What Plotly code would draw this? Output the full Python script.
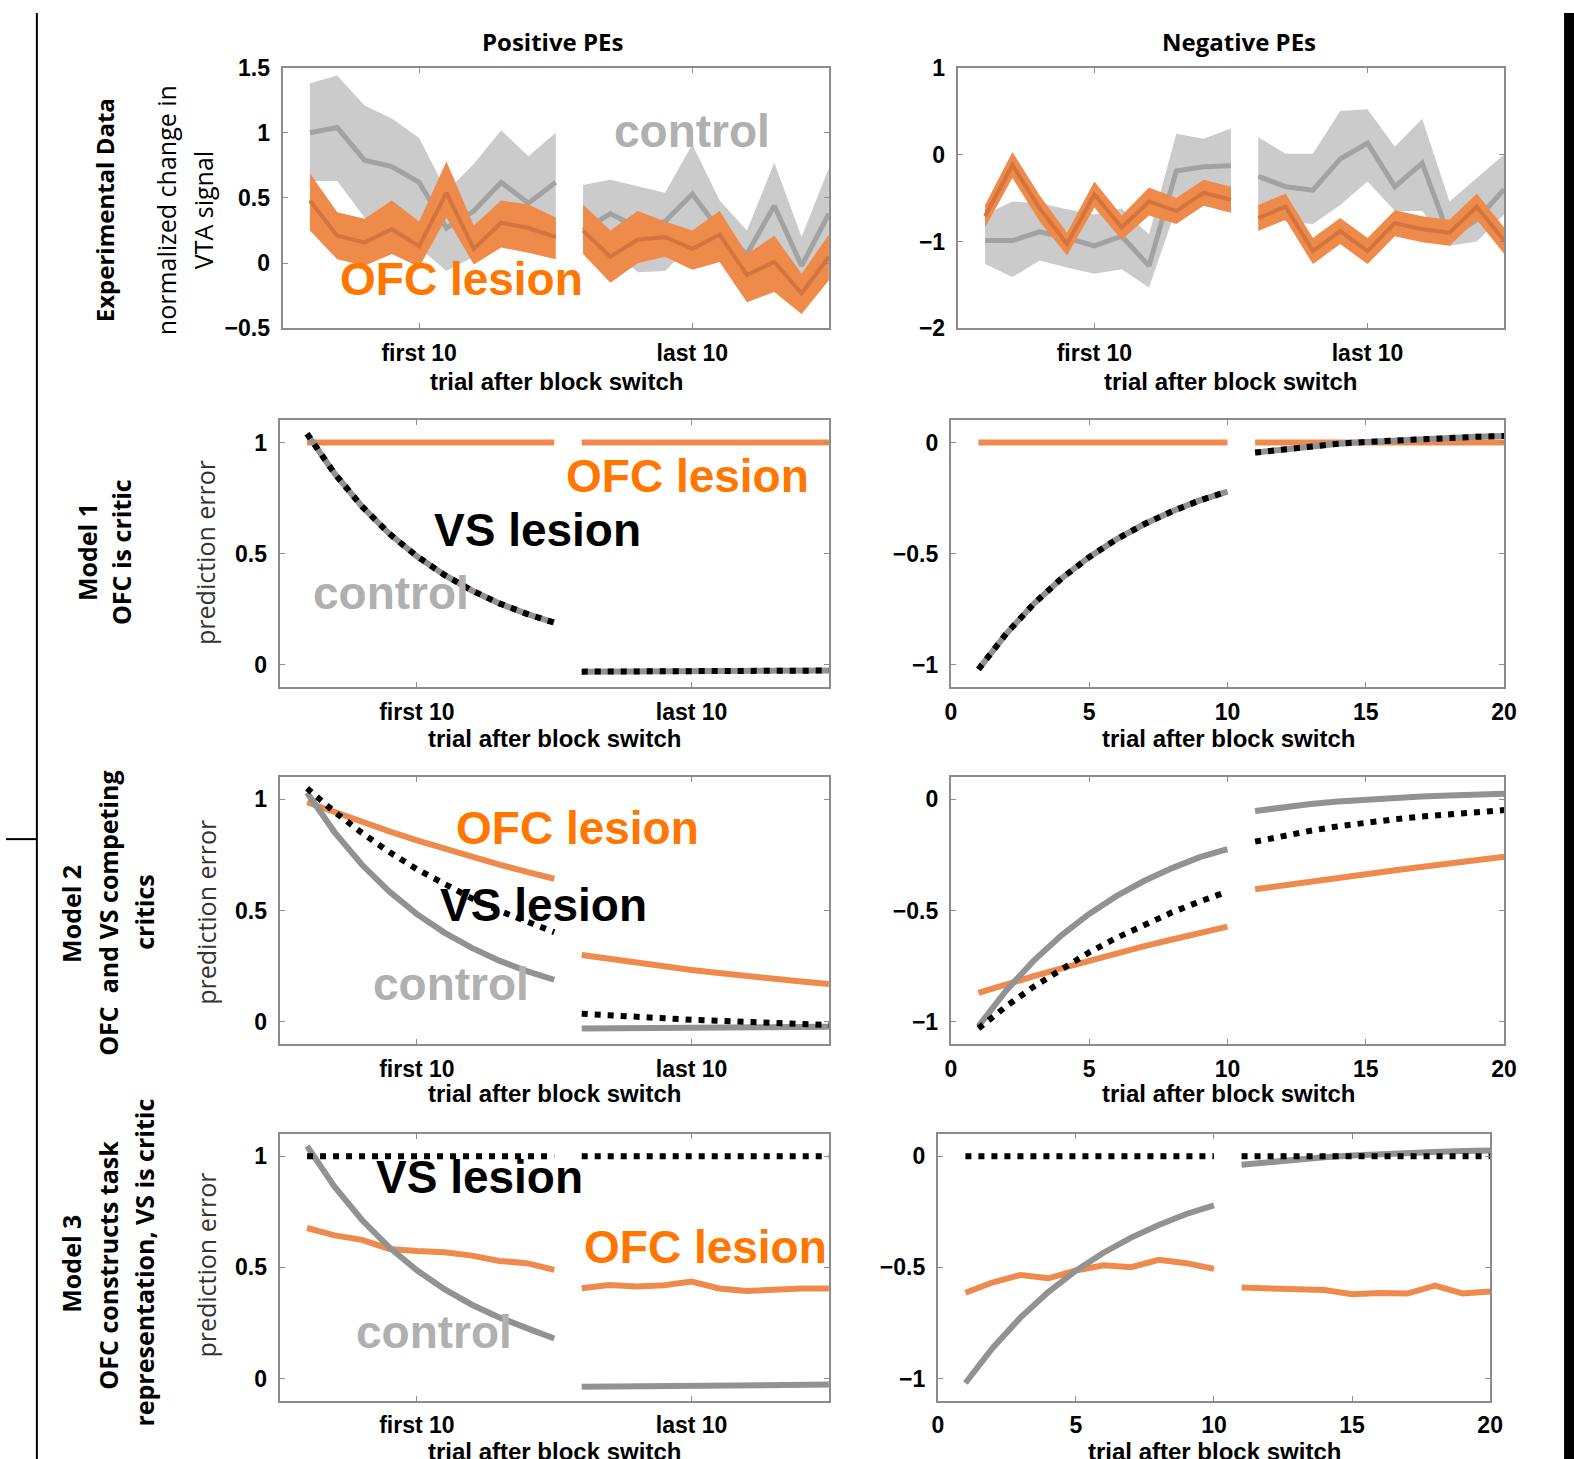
import plotly.graph_objects as go

W, H = 1600, 1480  # figure size (slightly larger than the picture, see compensation below)

# ---------------- data ----------------
trials_a = [1, 2, 3, 4, 5, 6, 7, 8, 9, 10]
trials_b = [11, 12, 13, 14, 15, 16, 17, 18, 19, 20]
first_last_ticks = [5, 15]
first_last_text = ["first 10", "last 10"]
num_ticks = [0, 5, 10, 15, 20]

# Experimental data - positive PEs
pos_ctrl_mean_a = [1.00, 1.04, 0.79, 0.74, 0.62, 0.27, 0.40, 0.62, 0.46, 0.62]
pos_ctrl_hi_a = [1.38, 1.44, 1.21, 1.11, 0.96, 0.55, 0.76, 1.02, 0.82, 1.00]
pos_ctrl_lo_a = [0.63, 0.63, 0.35, 0.25, 0.12, -0.06, 0.05, 0.22, 0.10, 0.22]
pos_ctrl_mean_b = [0.25, 0.38, 0.27, 0.32, 0.53, 0.25, 0.07, 0.44, -0.02, 0.38]
pos_ctrl_hi_b = [0.60, 0.64, 0.59, 0.54, 0.91, 0.48, 0.25, 0.77, 0.20, 0.73]
pos_ctrl_lo_b = [0.10, 0.12, -0.07, -0.06, 0.15, 0.02, -0.10, 0.10, -0.15, 0.05]
pos_ofc_mean_a = [0.48, 0.21, 0.16, 0.26, 0.13, 0.54, 0.11, 0.31, 0.27, 0.20]
pos_ofc_hi_a = [0.69, 0.39, 0.34, 0.48, 0.32, 0.78, 0.29, 0.48, 0.45, 0.35]
pos_ofc_lo_a = [0.25, 0.03, -0.02, 0.07, -0.03, 0.35, -0.01, 0.12, 0.08, 0.03]
pos_ofc_mean_b = [0.25, 0.05, 0.18, 0.20, 0.11, 0.22, -0.09, 0.01, -0.23, 0.05]
pos_ofc_hi_b = [0.45, 0.25, 0.40, 0.32, 0.25, 0.40, 0.07, 0.21, -0.08, 0.22]
pos_ofc_lo_b = [0.07, -0.15, 0.00, 0.05, -0.05, 0.01, -0.30, -0.22, -0.39, -0.13]

# Experimental data - negative PEs
neg_ctrl_mean_a = [-0.99, -0.99, -0.89, -0.96, -1.05, -0.94, -1.28, -0.19, -0.14, -0.13]
neg_ctrl_hi_a = [-0.69, -0.54, -0.56, -0.63, -0.69, -0.62, -0.92, 0.24, 0.18, 0.30]
neg_ctrl_lo_a = [-1.26, -1.41, -1.22, -1.30, -1.37, -1.32, -1.53, -0.62, -0.52, -0.50]
neg_ctrl_mean_b = [-0.25, -0.37, -0.41, -0.05, 0.13, -0.37, -0.10, -0.95, -0.75, -0.40]
neg_ctrl_hi_b = [0.20, 0.01, 0.01, 0.50, 0.52, 0.09, 0.41, -0.54, -0.27, 0.00]
neg_ctrl_lo_b = [-0.62, -0.77, -0.80, -0.58, -0.31, -0.65, -0.65, -1.05, -1.00, -0.69]
neg_ofc_mean_a = [-0.71, -0.12, -0.62, -1.03, -0.46, -0.84, -0.54, -0.65, -0.44, -0.52]
neg_ofc_hi_a = [-0.58, 0.03, -0.47, -0.90, -0.31, -0.70, -0.38, -0.50, -0.29, -0.37]
neg_ofc_lo_a = [-0.84, -0.27, -0.77, -1.16, -0.61, -0.98, -0.70, -0.80, -0.59, -0.67]
neg_ofc_mean_b = [-0.73, -0.60, -1.11, -0.88, -1.11, -0.79, -0.86, -0.90, -0.60, -0.99]
neg_ofc_hi_b = [-0.58, -0.45, -0.96, -0.73, -0.96, -0.64, -0.71, -0.75, -0.45, -0.84]
neg_ofc_lo_b = [-0.88, -0.75, -1.26, -1.03, -1.26, -0.94, -1.01, -1.05, -0.75, -1.14]

# Model 1
m1_pos_ctrl_a = [1.04, 0.861, 0.713, 0.590, 0.489, 0.405, 0.335, 0.277, 0.230, 0.190]
m1_pos_ctrl_b = [-0.030, -0.030, -0.029, -0.029, -0.028, -0.028, -0.027, -0.027, -0.026, -0.025]
m1_pos_vs_a = [1.04, 0.861, 0.713, 0.590, 0.489, 0.405, 0.335, 0.277, 0.230, 0.190]
m1_pos_vs_b = [-0.030, -0.030, -0.029, -0.029, -0.028, -0.028, -0.027, -0.027, -0.026, -0.025]
m1_pos_ofc_a = [1, 1, 1, 1, 1, 1, 1, 1, 1, 1]
m1_pos_ofc_b = [1, 1, 1, 1, 1, 1, 1, 1, 1, 1]
m1_neg_ctrl_a = [-1.02, -0.86, -0.725, -0.611, -0.515, -0.434, -0.366, -0.309, -0.260, -0.22]
m1_neg_ctrl_b = [-0.045, -0.030, -0.015, -0.005, 0.003, 0.010, 0.016, 0.021, 0.026, 0.030]
m1_neg_vs_a = [-1.02, -0.86, -0.725, -0.611, -0.515, -0.434, -0.366, -0.309, -0.260, -0.22]
m1_neg_vs_b = [-0.045, -0.030, -0.015, -0.005, 0.003, 0.010, 0.016, 0.021, 0.026, 0.030]
m1_neg_ofc_a = [0, 0, 0, 0, 0, 0, 0, 0, 0, 0]
m1_neg_ofc_b = [0, 0, 0, 0, 0, 0, 0, 0, 0, 0]

# Model 2
m2_pos_ctrl_a = [1.03, 0.853, 0.706, 0.585, 0.484, 0.401, 0.332, 0.275, 0.228, 0.189]
m2_pos_ctrl_b = [-0.030, -0.029, -0.028, -0.027, -0.026, -0.025, -0.024, -0.023, -0.022, -0.022]
m2_pos_vs_a = [1.05, 0.944, 0.849, 0.763, 0.686, 0.617, 0.555, 0.499, 0.448, 0.403]
m2_pos_vs_b = [0.036, 0.028, 0.021, 0.014, 0.009, 0.004, 0.0, -0.005, -0.010, -0.015]
m2_pos_ofc_a = [0.987, 0.941, 0.897, 0.856, 0.816, 0.778, 0.742, 0.707, 0.674, 0.643]
m2_pos_ofc_b = [0.300, 0.282, 0.264, 0.248, 0.233, 0.219, 0.205, 0.193, 0.181, 0.170]
m2_neg_ctrl_a = [-1.02, -0.86, -0.725, -0.611, -0.515, -0.434, -0.366, -0.309, -0.260, -0.224]
m2_neg_ctrl_b = [-0.052, -0.035, -0.021, -0.009, 0.0, 0.007, 0.013, 0.018, 0.022, 0.025]
m2_neg_vs_a = [-1.03, -0.931, -0.842, -0.761, -0.688, -0.622, -0.562, -0.508, -0.459, -0.415]
m2_neg_vs_b = [-0.19, -0.164, -0.141, -0.121, -0.104, -0.090, -0.077, -0.067, -0.057, -0.048]
m2_neg_ofc_a = [-0.87, -0.83, -0.795, -0.76, -0.725, -0.69, -0.66, -0.63, -0.60, -0.572]
m2_neg_ofc_b = [-0.404, -0.386, -0.369, -0.352, -0.336, -0.320, -0.304, -0.289, -0.273, -0.258]

# Model 3
m3_pos_ctrl_a = [1.045, 0.863, 0.713, 0.589, 0.487, 0.402, 0.332, 0.275, 0.227, 0.180]
m3_pos_ctrl_b = [-0.037, -0.036, -0.035, -0.034, -0.033, -0.031, -0.030, -0.029, -0.028, -0.027]
m3_pos_vs_a = [1, 1, 1, 1, 1, 1, 1, 1, 1, 1]
m3_pos_vs_b = [1, 1, 1, 1, 1, 1, 1, 1, 1, 1]
m3_pos_ofc_a = [0.677, 0.644, 0.624, 0.583, 0.574, 0.568, 0.553, 0.529, 0.519, 0.489]
m3_pos_ofc_b = [0.406, 0.421, 0.414, 0.420, 0.436, 0.405, 0.394, 0.400, 0.405, 0.405]
m3_neg_ctrl_a = [-1.02, -0.86, -0.725, -0.611, -0.515, -0.434, -0.366, -0.309, -0.260, -0.221]
m3_neg_ctrl_b = [-0.038, -0.025, -0.014, -0.005, 0.003, 0.010, 0.015, 0.019, 0.023, 0.026]
m3_neg_vs_a = [0, 0, 0, 0, 0, 0, 0, 0, 0, 0]
m3_neg_vs_b = [0, 0, 0, 0, 0, 0, 0, 0, 0, 0]
m3_neg_ofc_a = [-0.614, -0.567, -0.534, -0.549, -0.514, -0.491, -0.499, -0.466, -0.481, -0.507]
m3_neg_ofc_b = [-0.591, -0.595, -0.598, -0.602, -0.621, -0.615, -0.618, -0.582, -0.617, -0.609]

# ---------------- styles ----------------
ORANGE_TXT = "#FF7700"
GRAY_TXT = "#B0B0B0"
BAND_GRAY = "#CBCBCB"
LINE_GRAY_DATA = "#A2A2A2"
BAND_ORANGE = "#EE8A4A"
LINE_ORANGE_DATA = "#D3733E"
MODEL_ORANGE = "#EF8A4F"
MODEL_GRAY = "#929292"
AXIS_COL = "#8C8C8C"
LABEL_FONT = "Liberation Sans, Arial, sans-serif"
SIDE_FONT = "Open Sans, DejaVu Sans, sans-serif"
TICK_FONT = dict(family=LABEL_FONT, size=23, color="black", weight="bold")

# The photographed page maps figure pixels slightly (measured): compensate so
# that positions given in picture pixels land where intended.
SX, OX = 0.9893, 5.1
SY, OY = 0.983, 11.4


def px(t):
    return (t - OX) / SX


def py(t):
    return (t - OY) / SY


def xd(a, b):
    return [px(a) / W, px(b) / W]


def yd(top, bottom):
    return [1 - py(bottom) / H, 1 - py(top) / H]


# panel geometry in picture pixels: (x-left, x-right, y-top, y-bottom, yrange, yticks, xtickmode)
panels = [
    (282, 829, 66, 327, [-0.5, 1.5], [-0.5, 0, 0.5, 1, 1.5], "fl"),
    (958, 1505, 66, 327, [-2, 1], [-2, -1, 0, 1], "fl"),
    (279, 829, 419, 686, [-0.1, 1.1], [0, 0.5, 1], "fl"),
    (951, 1505, 419, 686, [-1.1, 0.1], [-1, -0.5, 0], "num"),
    (279, 829, 776, 1043, [-0.1, 1.1], [0, 0.5, 1], "fl"),
    (951, 1505, 776, 1043, [-1.1, 0.1], [-1, -0.5, 0], "num"),
    (279, 829, 1133, 1400, [-0.1, 1.1], [0, 0.5, 1], "fl"),
    (938, 1491, 1133, 1400, [-1.1, 0.1], [-1, -0.5, 0], "num"),
]

fig = go.Figure()
layout = dict(
    width=W, height=H, autosize=False,
    margin=dict(l=0, r=0, t=0, b=0),
    paper_bgcolor="white", plot_bgcolor="white",
    showlegend=False,
)


def ytxt(v):
    s = ("%g" % v)
    return s.replace("-", "\u2212")


for i, (x0, x1, y0, y1, yr, yt, mode) in enumerate(panels, start=1):
    xa = dict(
        domain=xd(x0, x1), range=[0, 20], anchor="y%d" % i,
        showline=True, linecolor=AXIS_COL, linewidth=2, mirror="ticks",
        ticks="inside", ticklen=5, tickcolor=AXIS_COL, tickwidth=1,
        showgrid=False, zeroline=False, tickfont=TICK_FONT,
        ticklabelstandoff=3, fixedrange=True,
    )
    if mode == "fl":
        xa.update(tickmode="array", tickvals=first_last_ticks, ticktext=first_last_text)
    else:
        xa.update(tickmode="array", tickvals=num_ticks, ticktext=[str(v) for v in num_ticks])
    ya = dict(
        domain=yd(y0, y1), range=yr, anchor="x%d" % i,
        showline=True, linecolor=AXIS_COL, linewidth=2, mirror="ticks",
        ticks="inside", ticklen=5, tickcolor=AXIS_COL, tickwidth=1,
        showgrid=False, zeroline=False, tickfont=TICK_FONT,
        tickmode="array", tickvals=yt, ticktext=[ytxt(v) for v in yt],
        ticklabelstandoff=6, fixedrange=True,
    )
    layout["xaxis%d" % (1 if i == 1 else i)] = xa
    layout["yaxis%d" % (1 if i == 1 else i)] = ya


def ax(i):
    return ("x" if i == 1 else "x%d" % i), ("y" if i == 1 else "y%d" % i)


def band(i, xs, lo, hi, color):
    xa, ya = ax(i)
    fig.add_trace(go.Scatter(x=xs + xs[::-1], y=hi + lo[::-1], fill="toself",
                             fillcolor=color, line=dict(width=0), mode="lines",
                             xaxis=xa, yaxis=ya, hoverinfo="skip"))


def line(i, xs, ys, color, width, dash="solid"):
    xa, ya = ax(i)
    fig.add_trace(go.Scatter(x=xs, y=ys, mode="lines",
                             line=dict(color=color, width=width, dash=dash),
                             xaxis=xa, yaxis=ya))


# Row 1: experimental data
for i, (cm_a, ch_a, cl_a, cm_b, ch_b, cl_b, om_a, oh_a, ol_a, om_b, oh_b, ol_b) in [
    (1, (pos_ctrl_mean_a, pos_ctrl_hi_a, pos_ctrl_lo_a, pos_ctrl_mean_b, pos_ctrl_hi_b, pos_ctrl_lo_b,
         pos_ofc_mean_a, pos_ofc_hi_a, pos_ofc_lo_a, pos_ofc_mean_b, pos_ofc_hi_b, pos_ofc_lo_b)),
    (2, (neg_ctrl_mean_a, neg_ctrl_hi_a, neg_ctrl_lo_a, neg_ctrl_mean_b, neg_ctrl_hi_b, neg_ctrl_lo_b,
         neg_ofc_mean_a, neg_ofc_hi_a, neg_ofc_lo_a, neg_ofc_mean_b, neg_ofc_hi_b, neg_ofc_lo_b)),
]:
    band(i, trials_a, cl_a, ch_a, BAND_GRAY)
    band(i, trials_b, cl_b, ch_b, BAND_GRAY)
    line(i, trials_a, cm_a, LINE_GRAY_DATA, 5)
    line(i, trials_b, cm_b, LINE_GRAY_DATA, 5)
    band(i, trials_a, ol_a, oh_a, BAND_ORANGE)
    band(i, trials_b, ol_b, oh_b, BAND_ORANGE)
    line(i, trials_a, om_a, LINE_ORANGE_DATA, 4)
    line(i, trials_b, om_b, LINE_ORANGE_DATA, 4)

DOT = "6px,7px"
model_sets = [
    (3, m1_pos_ctrl_a, m1_pos_ctrl_b, m1_pos_vs_a, m1_pos_vs_b, m1_pos_ofc_a, m1_pos_ofc_b),
    (4, m1_neg_ctrl_a, m1_neg_ctrl_b, m1_neg_vs_a, m1_neg_vs_b, m1_neg_ofc_a, m1_neg_ofc_b),
    (5, m2_pos_ctrl_a, m2_pos_ctrl_b, m2_pos_vs_a, m2_pos_vs_b, m2_pos_ofc_a, m2_pos_ofc_b),
    (6, m2_neg_ctrl_a, m2_neg_ctrl_b, m2_neg_vs_a, m2_neg_vs_b, m2_neg_ofc_a, m2_neg_ofc_b),
    (7, m3_pos_ctrl_a, m3_pos_ctrl_b, m3_pos_vs_a, m3_pos_vs_b, m3_pos_ofc_a, m3_pos_ofc_b),
    (8, m3_neg_ctrl_a, m3_neg_ctrl_b, m3_neg_vs_a, m3_neg_vs_b, m3_neg_ofc_a, m3_neg_ofc_b),
]
for i, ca, cb, va, vb, oa, ob in model_sets:
    line(i, trials_a, oa, MODEL_ORANGE, 6)
    line(i, trials_b, ob, MODEL_ORANGE, 6)
    line(i, trials_a, ca, MODEL_GRAY, 6)
    line(i, trials_b, cb, MODEL_GRAY, 6)
    line(i, trials_a, va, "black", 6, DOT)
    line(i, trials_b, vb, "black", 6, DOT)

annotations = []


def txt(text, x, y, size, color="black", bold=True, family=LABEL_FONT, angle=0):
    t = "<b>%s</b>" % text if bold else text
    annotations.append(dict(text=t, x=px(x) / W, y=1 - py(y) / H, xref="paper", yref="paper",
                            showarrow=False, xanchor="center", yanchor="middle",
                            textangle=angle, font=dict(family=family, size=size, color=color)))


# column titles
txt("Positive PEs", 553, 40, 24, family=SIDE_FONT)
txt("Negative PEs", 1240, 40, 24, family=SIDE_FONT)

# x-axis titles
for cx, cy in [(556, 380), (1231, 380), (554, 737), (1229, 737), (554, 1093), (1229, 1093),
               (554, 1451), (1215, 1451)]:
    txt("trial after block switch", cx, cy, 24)

# row labels
txt("Experimental Data", 104, 209, 24, family=SIDE_FONT, angle=-90)
txt("normalized change in", 166, 209, 25, family=SIDE_FONT, bold=False, angle=-90)
txt("VTA signal", 203, 209, 25, family=SIDE_FONT, bold=False, angle=-90)

txt("Model 1", 86, 551, 25, family=SIDE_FONT, angle=-90)
txt("OFC is critic", 121, 551, 25, family=SIDE_FONT, angle=-90)
txt("prediction error", 205, 551, 25, color="#333333", family=SIDE_FONT, bold=False, angle=-90)

txt("Model 2", 70, 913, 25, family=SIDE_FONT, angle=-90)
txt("OFC\u00a0 and VS competing", 107, 912, 25, family=SIDE_FONT, angle=-90)
txt("critics", 143, 911, 25, family=SIDE_FONT, angle=-90)
txt("prediction error", 205, 911, 25, color="#333333", family=SIDE_FONT, bold=False, angle=-90)

txt("Model 3", 70, 1263, 25, family=SIDE_FONT, angle=-90)
txt("OFC constructs task", 107, 1264, 25, family=SIDE_FONT, angle=-90)
txt("representation, VS is critic", 143, 1262, 25, family=SIDE_FONT, angle=-90)
txt("prediction error", 205, 1264, 25, color="#333333", family=SIDE_FONT, bold=False, angle=-90)

# in-panel labels
txt("control", 692, 129, 46, GRAY_TXT)
txt("OFC lesion", 461, 278, 46, ORANGE_TXT)

txt("OFC lesion", 687, 475, 46, ORANGE_TXT)
txt("VS lesion", 537, 529, 46, "black")
txt("control", 391, 592, 46, GRAY_TXT)

txt("OFC lesion", 577, 827, 46, ORANGE_TXT)
txt("VS lesion", 543, 904, 46, "black")
txt("control", 451, 983, 46, GRAY_TXT)

txt("VS lesion", 479, 1176, 46, "black")
txt("OFC lesion", 705, 1246, 46, ORANGE_TXT)
txt("control", 434, 1331, 46, GRAY_TXT)

layout["annotations"] = annotations
layout["shapes"] = [
    dict(type="line", xref="paper", yref="paper", x0=px(36) / W, x1=px(36) / W, y0=0, y1=1,
         line=dict(color="black", width=2)),
    dict(type="line", xref="paper", yref="paper", x0=0, x1=px(36) / W,
         y0=1 - py(838) / H, y1=1 - py(838) / H, line=dict(color="black", width=2)),
    dict(type="rect", xref="paper", yref="paper", x0=px(1565) / W, x1=1, y0=0, y1=1,
         fillcolor="black", line=dict(width=0)),
]
fig.update_layout(**layout)

PAGE_FIX = """
document.documentElement.style.margin='0';
document.documentElement.style.padding='0';
document.documentElement.style.overflow='hidden';
document.body.style.margin='0';
document.body.style.padding='0';
document.body.style.overflow='hidden';
var gd = document.getElementById('{plot_id}');
gd.style.position='fixed'; gd.style.left='0px'; gd.style.top='0px';
"""
fig.write_html("out.html", include_plotlyjs=True, post_script=PAGE_FIX,
               config={"displayModeBar": False, "staticPlot": True})
